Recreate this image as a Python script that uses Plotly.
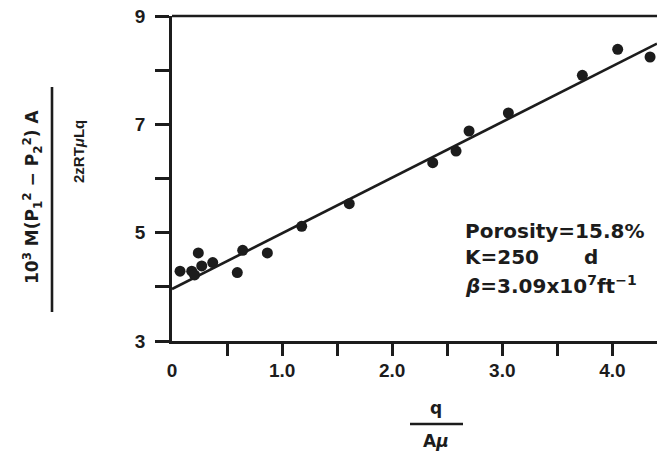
import plotly.graph_objects as go

# ---- data ----
q_over_amu = [0.073, 0.179, 0.205, 0.239, 0.27, 0.37, 0.593, 0.642, 0.866, 1.178, 1.61,
              2.368, 2.58, 2.698, 3.055, 3.727, 4.048, 4.342]
lhs_values = [4.29, 4.29, 4.22, 4.625, 4.385, 4.447, 4.263, 4.674, 4.625, 5.117, 5.536,
              6.293, 6.507, 6.877, 7.209, 7.905, 8.385, 8.243]
fit_x = [0.0, 4.405]
fit_y = [3.96, 8.49]

x_label_vals = [0, 1, 2, 3, 4]
x_label_text = ["0", "1.0", "2.0", "3.0", "4.0"]
x_tick_vals = [0.5, 1.0, 1.5, 2.0, 2.5, 3.0, 3.5, 4.0]
y_tick_vals = [3, 5, 7, 9]
y_tick_text = ["3", "5", "7", "9"]
y_minor_vals = [4, 6, 8]

X_RANGE = [0, 4.405]
Y_RANGE = [3, 9]

W, H = 657, 455
ML, MR, MT, MB = 172, 0, 16, 114
PW, PH = W - ML - MR, H - MT - MB

def pp_x(px):
    return (px - ML) / PW

def pp_y(py):
    return (MT + PH - py) / PH

INK = "#1c1c1c"
SANS = "Liberation Sans, Arial, sans-serif"
TICKFONT = dict(family=SANS, size=19, color=INK, weight="bold")
BOLD = "DejaVu Sans, sans-serif"

fig = go.Figure()
fig.add_trace(go.Scatter(x=fit_x, y=fit_y, mode="lines",
                         line=dict(color=INK, width=2.6), showlegend=False, hoverinfo="skip"))
fig.add_trace(go.Scatter(x=q_over_amu, y=lhs_values, mode="markers",
                         marker=dict(color=INK, size=11), showlegend=False))
fig.add_trace(go.Scatter(x=[None], y=[None], xaxis="x2", showlegend=False))

fig.update_layout(
    width=W, height=H,
    margin=dict(l=ML, r=MR, t=MT, b=MB, pad=0),
    paper_bgcolor="white", plot_bgcolor="white",
    xaxis=dict(range=X_RANGE, showgrid=False, zeroline=False,
               showline=True, linecolor=INK, linewidth=2.6,
               tickmode="array", tickvals=x_tick_vals, ticks="outside",
               ticklen=12, tickwidth=2.6, tickcolor=INK, showticklabels=False),
    xaxis2=dict(range=X_RANGE, overlaying="x", anchor="y", side="bottom",
                showgrid=False, zeroline=False, showline=False,
                tickmode="array", tickvals=x_label_vals, ticktext=x_label_text,
                ticks="outside", ticklen=12, tickcolor="rgba(0,0,0,0)",
                tickfont=TICKFONT),
    yaxis=dict(range=Y_RANGE, showgrid=False, zeroline=False,
               showline=True, linecolor=INK, linewidth=2.6,
               tickmode="array", tickvals=y_tick_vals, ticktext=y_tick_text,
               ticks="outside", ticklen=14, tickwidth=2.6, tickcolor=INK,
               tickfont=TICKFONT, ticklabelstandoff=6,
               minor=dict(tickmode="array", tickvals=y_minor_vals, ticks="outside",
                          ticklen=14, tickwidth=2.6, tickcolor=INK, showgrid=False)),
)

def line(x0, y0, x1, y1):
    fig.add_shape(type="line", xref="paper", yref="paper",
                  x0=pp_x(x0), x1=pp_x(x1), y0=pp_y(y0), y1=pp_y(y1),
                  line=dict(color=INK, width=2.6))

def text(px, py, s, size, xanchor="left", angle=0, family=BOLD):
    fig.add_annotation(x=pp_x(px), y=pp_y(py), xref="paper", yref="paper", text=s,
                       showarrow=False, xanchor=xanchor, yanchor="middle", textangle=angle,
                       font=dict(family=family, size=size, color=INK, weight="bold"))

# top frame line at y = 9
line(ML, MT, W, MT)

# annotation block
text(463, 231, "Porosity=15.8%", 20)
text(463, 257, "K=250", 20)
text(582, 257, "d", 20)
text(463, 285, "<i>β</i>=3.09x10<sup>7</sup>ft<sup>−1</sup>", 20)

# x-axis title (fraction q / Aμ)
text(436, 408, "q", 17, xanchor="center")
line(410, 424, 463, 424)
text(436, 441, "A<i>μ</i>", 17, xanchor="center")

# y-axis title (fraction)
text(33, 197, "10<sup>3</sup> M(P<sub>1</sub><sup>2</sup> − P<sub>2</sub><sup>2</sup>) A", 17,
     xanchor="center", angle=-90)
line(52, 87, 52, 312)
text(78, 152, "<b>2zRT<i>μ</i>Lq</b>", 15, xanchor="center", angle=-90, family=SANS)

fig.write_html("out.html", config={"displayModeBar": False},
               post_script="document.body.style.margin='0';document.body.style.overflow='hidden';")
